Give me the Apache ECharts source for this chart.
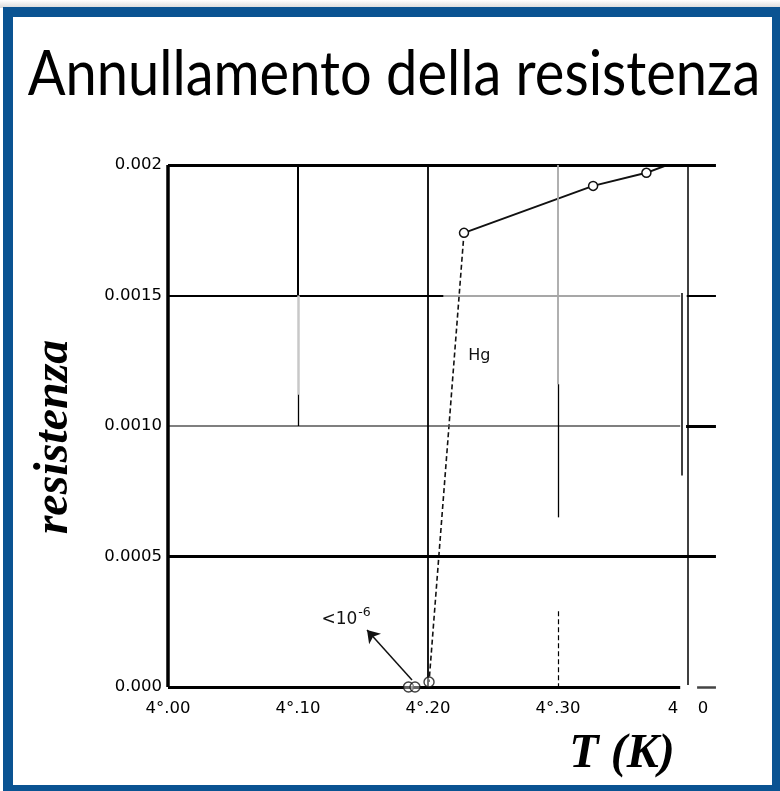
<!DOCTYPE html>
<html>
<head>
<meta charset="utf-8">
<title>Annullamento della resistenza</title>
<script src="https://cdn.jsdelivr.net/npm/echarts@6/dist/echarts.min.js"></script>
<style>
  html, body { margin: 0; padding: 0; background: #fff; }
  #chart { width: 780px; height: 791px; }
</style>
</head>
<body>
<div id="chart"></div>
<script>
// Temperature axis (K) and resistance axis (ohm)
const tempTicks = [4.0, 4.1, 4.2, 4.3, 4.4];
const tempTickLabels = ['4°.00', '4°.10', '4°.20', '4°.30', '4\u2003\u20060'];
const resTicks = [0, 0.0005, 0.001, 0.0015, 0.002];
const resTickLabels = ['0.000', '0.0005', '0.0010', '0.0015', '0.002'];

// Mercury above the transition: three measured points, the fitted line runs on to the frame
const normalT = [4.2277, 4.327, 4.368, 4.384];
const normalR = [0.00174, 0.00192, 0.00197, 0.002];
const normalMeasured = 3;

// Steep drop through the transition (dashed)
const transitionT = [4.2277, 4.2008];
const transitionR = [0.00174, 0.000019];

// Superconducting state: resistance below 1e-6
const superT = [4.185, 4.19, 4.2008];
const superR = [0, 0, 0.000019];

// Annotations
const arrowFrom = [4.1877, 0.000027];
const arrowTo = [4.1531, 0.000218];
const limitLabelAt = [4.137, 0.000258];
const hgLabelAt = [4.2395, 0.00127];

const pair = (xs, ys) => xs.map((x, i) => [x, ys[i]]);

function nearLabel(v, ticks, labels) {
  for (let i = 0; i < ticks.length; i++) {
    if (Math.abs(v - ticks[i]) < 1e-7) return labels[i];
  }
  return '';
}

// ruling of the printed graph paper
const heavy = { color: '#000', width: 3, type: 'solid' };
const medium = { color: '#000', width: 2, type: 'solid' };
const thin = { color: '#000', width: 1.3, type: 'solid' };
const grey = { color: '#8a8a8a', width: 1.6, type: 'solid' };
const faint = { color: '#c8c8c8', width: 2.5, type: 'solid' };
const dashed = { color: '#000', width: 1.2, type: [5, 3] };
function seg(x1, y1, x2, y2, style) {
  return [{ coord: [x1, y1], lineStyle: style }, { coord: [x2, y2] }];
}
const ruling = [
  // horizontals
  seg(4.0, 0.002, 4.4215, 0.002, heavy),
  seg(4.0, 0.0015, 4.212, 0.0015, medium),
  seg(4.212, 0.0015, 4.394, 0.0015, grey),
  seg(4.399, 0.0015, 4.4215, 0.0015, medium),
  seg(4.0, 0.001, 4.394, 0.001, { color: '#555', width: 1.5, type: 'solid' }),
  seg(4.3985, 0.001, 4.4215, 0.001, heavy),
  seg(4.0, 0.0005, 4.4215, 0.0005, heavy),
  seg(4.0, 0, 4.394, 0, heavy),
  seg(4.407, 0, 4.4215, 0, { color: '#444', width: 2.5, type: 'solid' }),
  // verticals
  seg(4.0, 0, 4.0, 0.002, { color: '#000', width: 3.5, type: 'solid' }),
  seg(4.1, 0.002, 4.1, 0.0015, medium),
  seg(4.1, 0.0015, 4.1, 0.00112, faint),
  seg(4.1, 0.00112, 4.1, 0.001, thin),
  seg(4.2, 0, 4.2, 0.002, { color: '#000', width: 1.8, type: 'solid' }),
  seg(4.3, 0.002, 4.3, 0.00116, { color: '#a8a8a8', width: 1.8, type: 'solid' }),
  seg(4.3, 0.00116, 4.3, 0.00065, thin),
  seg(4.3, 0.00029, 4.3, 0, dashed),
  seg(4.4, 0.002, 4.4, 0.000008, { color: '#000', width: 1.5, type: 'solid' }),
  seg(4.3954, 0.00151, 4.3954, 0.00081, { color: '#000', width: 1.5, type: 'solid' })
];

const labelFont = 'DejaVu Sans';
const serif = '"Liberation Serif", serif';

const chart = echarts.init(document.getElementById('chart'), null, { renderer: 'canvas' });

chart.setOption({
  animation: false,
  backgroundColor: '#fff',
  grid: { left: 168, top: 165, width: 552.5, height: 522, containLabel: false },
  xAxis: {
    type: 'value', min: 4.0, max: 4.425, interval: 0.1,
    axisLine: { show: false }, axisTick: { show: false }, splitLine: { show: false },
    axisLabel: {
      margin: 13, color: '#000', fontSize: 16.5, fontFamily: labelFont,
      formatter: v => nearLabel(v, tempTicks, tempTickLabels)
    }
  },
  yAxis: {
    type: 'value', min: 0, max: 0.002, interval: 0.0005,
    axisLine: { show: false }, axisTick: { show: false }, splitLine: { show: false },
    axisLabel: {
      margin: 6, color: '#000', fontSize: 16.5, fontFamily: labelFont,
      formatter: v => nearLabel(v, resTicks, resTickLabels)
    }
  },
  graphic: [
    {
      type: 'rect', z: -1, silent: true,
      shape: { x: 0, y: 0, width: 780, height: 8 },
      style: {
        fill: new echarts.graphic.LinearGradient(0, 0, 0, 1, [
          { offset: 0, color: '#ffffff' }, { offset: 1, color: '#d9d9d9' }
        ])
      }
    },
    {
      type: 'rect', z: 100, silent: true,
      shape: { x: 8, y: 12, width: 769, height: 778 },
      style: { fill: 'transparent', stroke: '#0a5392', lineWidth: 10 }
    },
    {
      type: 'text', z: 100, silent: true,
      x: 394, y: 75, scaleY: 1.12,
      style: {
        text: 'Annullamento della resistenza', x: 0, y: 0,
        font: '56px Lato', fill: '#000',
        textAlign: 'center', textVerticalAlign: 'middle'
      }
    },
    {
      type: 'text', z: 100, silent: true, x: 55, y: 437, rotation: Math.PI / 2,
      style: {
        text: 'resistenza', x: 0, y: 0,
        font: 'italic bold 48px ' + serif, fill: '#000',
        textAlign: 'center', textVerticalAlign: 'middle'
      }
    },
    {
      type: 'text', z: 100, silent: true,
      style: {
        text: 'T (K)', x: 622, y: 755,
        font: 'italic bold 48px ' + serif, fill: '#000',
        textAlign: 'center', textVerticalAlign: 'middle'
      }
    }
  ],
  series: [
    {
      name: 'ruling', type: 'line', data: [], silent: true, z: 1,
      markLine: {
        silent: true, symbol: ['none', 'none'], animation: false,
        label: { show: false }, data: ruling
      }
    },
    {
      name: 'transition', type: 'line', z: 3, silent: true,
      data: pair(transitionT, transitionR),
      symbol: 'none',
      lineStyle: { color: '#111', width: 1.6, type: [5, 3] }
    },
    {
      name: 'Hg', type: 'line', z: 4, silent: true,
      data: pair(normalT, normalR),
      symbol: (v, p) => (p.dataIndex < normalMeasured ? 'circle' : 'none'),
      symbolSize: 9,
      itemStyle: { color: '#fff', borderColor: '#111', borderWidth: 1.5 },
      lineStyle: { color: '#111', width: 2 }
    },
    {
      name: 'superconducting', type: 'scatter', z: 5, silent: true,
      data: pair(superT, superR),
      symbol: 'circle', symbolSize: 10,
      itemStyle: { color: 'rgba(255,255,255,0.5)', borderColor: '#111', borderWidth: 1.4 },
      markLine: {
        silent: true, symbol: ['none', 'arrow'], symbolSize: 12,
        label: { show: false },
        lineStyle: { color: '#111', width: 1.5, type: 'solid' },
        data: [[{ coord: arrowFrom }, { coord: arrowTo }]]
      },
      markPoint: {
        silent: true, symbol: 'circle', symbolSize: 1,
        itemStyle: { color: 'transparent' },
        data: [
          {
            coord: limitLabelAt,
            label: {
              show: true, position: 'inside', formatter: '{a|<10}{b|-6}',
              rich: {
                a: { fontSize: 17, fontFamily: labelFont, color: '#111' },
                b: { fontSize: 12.5, fontFamily: labelFont, color: '#111', padding: [0, 0, 13, 1] }
              }
            }
          },
          {
            coord: hgLabelAt,
            label: { show: true, position: 'inside', formatter: 'Hg', fontSize: 16, fontFamily: labelFont, color: '#111' }
          }
        ]
      }
    }
  ]
});
</script>
</body>
</html>
